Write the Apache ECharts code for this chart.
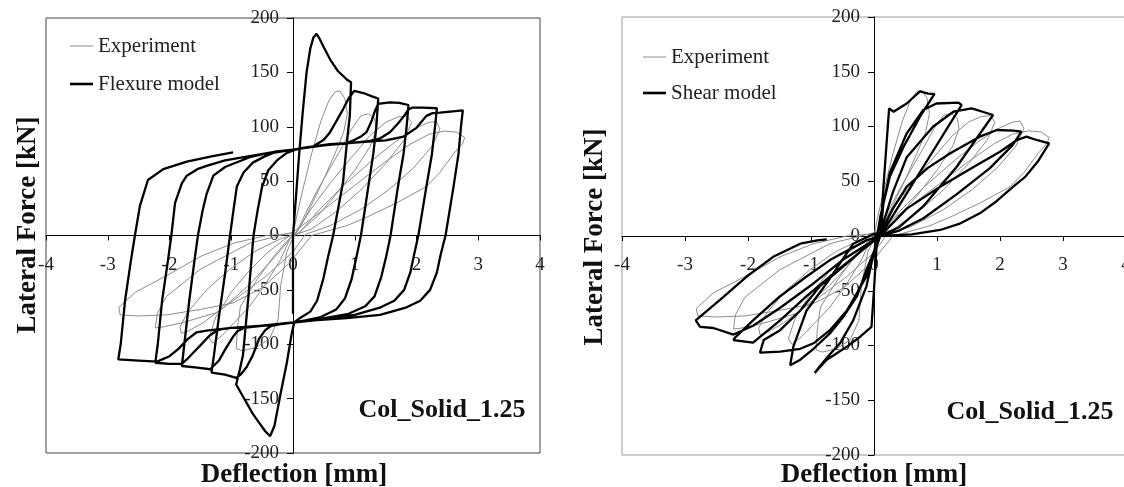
<!DOCTYPE html>
<html>
<head>
<meta charset="utf-8">
<script src="https://cdn.jsdelivr.net/npm/echarts/dist/echarts.min.js"></script>
<style>
html,body{margin:0;padding:0;background:#fff;}
#chart{width:1124px;height:487px;}
</style>
</head>
<body>
<div id="chart"></div>
<script>
// ---- tick values ----
const xTicks = [-4, -3, -2, -1, 0, 1, 2, 3, 4];
const yTicks = [-200, -150, -100, -50, 0, 50, 100, 150, 200];

// ---- Experiment (same test data in both panels): [deflection mm, force kN] ----
const experiment = [
  [0,0],[0.05,15],[0.15,40],[0.3,75],[0.45,105],[0.58,124],[0.68,132],[0.76,133],[0.84,126],[0.88,112],[0.82,95],[0.7,78],[0.5,52],[0.3,28],[0.12,8],[0,-2],
  [-0.1,-15],[-0.2,-46],[-0.24,-77],[-0.38,-95],[-0.6,-103],[-0.82,-106],[-0.92,-104],[-0.9,-85],[-0.85,-65],[-0.6,-42],[-0.35,-22],[-0.1,-5],[0.05,2],
  [0.2,20],[0.4,42],[0.6,62],[0.8,82],[0.95,98],[1.1,110],[1.22,112],[1.32,108],[1.35,98],[1.25,82],[1.0,60],[0.7,38],[0.4,18],[0.1,3],[-0.05,-3],
  [-0.2,-22],[-0.45,-45],[-0.7,-65],[-0.95,-80],[-1.15,-92],[-1.3,-99],[-1.36,-94],[-1.25,-75],[-1.0,-52],[-0.7,-32],[-0.4,-15],[-0.1,-2],[0.05,3],
  [0.3,25],[0.6,48],[0.95,72],[1.25,92],[1.5,104],[1.7,109],[1.84,110],[1.92,104],[1.8,88],[1.5,66],[1.1,42],[0.7,22],[0.3,6],[0,0],
  [-0.3,-20],[-0.7,-45],[-1.1,-65],[-1.45,-80],[-1.7,-88],[-1.81,-90],[-1.83,-84],[-1.7,-70],[-1.4,-50],[-1.0,-30],[-0.6,-14],[-0.2,-3],[0.1,2],
  [0.4,22],[0.8,45],[1.3,70],[1.7,88],[2.0,99],[2.2,104],[2.32,105],[2.38,98],[2.25,82],[1.95,62],[1.55,42],[1.1,24],[0.6,9],[0.2,1],
  [0,-15],[-0.43,-37],[-0.85,-55],[-1.24,-71],[-1.78,-80],[-2.1,-84],[-2.23,-85],[-2.2,-72],[-2.05,-56],[-1.5,-31],[-0.7,-7],[0,3],
  [0.5,24],[1.0,46],[1.5,68],[1.9,84],[2.2,93],[2.45,96],[2.65,95],[2.78,90],[2.75,85],[2.6,75],[2.38,58],[2.16,45],[1.68,30],[1.2,17],[0.87,9],[0.3,0],
  [-0.05,-25],[-0.5,-48],[-0.97,-62],[-1.5,-68],[-2.05,-73],[-2.5,-74],[-2.8,-73],[-2.82,-66],[-2.55,-52],[-2.05,-37],[-1.49,-19],[-0.96,-7],[-0.43,0],[0,2]
];

// ---- Flexure model (left panel) ----
const flexureModel = [
  [0,-72],[0,0],[0.05,37],[0.1,75],[0.16,115],[0.22,150],[0.28,172],[0.33,182],[0.38,185.5],[0.43,181],[0.49,174],[0.6,162],[0.73,151],[0.87,143.5],[0.94,141],
  [0.92,110],[0.89,95],[0.81,49],[0.65,0],[0.57,-19],[0.49,-40],[0.39,-60],[0.28,-70],[0.11,-76],[0.02,-80],
  [-0.02,-90],[-0.1,-117],[-0.21,-148],[-0.3,-175],[-0.37,-184.5],[-0.45,-180],[-0.55,-172],[-0.65,-164],[-0.81,-148],[-0.92,-137],
  [-0.86,-123],[-0.81,-110],[-0.72,-55],[-0.64,0],[-0.57,24],[-0.5,45],[-0.4,60],[-0.26,69],[-0.1,76],[0.1,80],[0.33,82],
  [0.5,88],[0.6,95],[0.7,105],[0.81,116],[0.9,126],[0.99,133],[1.14,131],[1.28,128],[1.38,126],
  [1.35,100],[1.3,75],[1.22,45],[1.1,0],[1.03,-19],[0.95,-40],[0.84,-58],[0.7,-68],[0.45,-75],[0.2,-78],[0,-80],[-0.2,-81.5],[-0.35,-83],
  [-0.45,-87],[-0.55,-95],[-0.65,-110],[-0.75,-121],[-0.85,-128],[-0.92,-131],[-1.1,-128],[-1.32,-126],
  [-1.28,-110],[-1.2,-75],[-1.1,-35],[-1.02,0],[-0.96,25],[-0.91,45],[-0.8,58],[-0.65,67],[-0.45,73],[-0.32,76],[0,79],[0.33,82],[0.6,84],[0.87,85],
  [1.0,88],[1.1,91],[1.19,95],[1.27,105],[1.33,115],[1.38,121],[1.57,122.5],[1.72,122],[1.87,120],
  [1.84,100],[1.79,75],[1.7,45],[1.58,0],[1.51,-19],[1.43,-38],[1.32,-56],[1.17,-65],[0.9,-72],[0.6,-75],[0.33,-78],[0,-80],[-0.5,-83],[-0.8,-85],
  [-0.9,-88],[-0.97,-93],[-1.1,-105],[-1.2,-115],[-1.34,-123],[-1.55,-121.5],[-1.8,-120],
  [-1.76,-100],[-1.68,-60],[-1.6,-25],[-1.54,0],[-1.46,24],[-1.4,38],[-1.29,55],[-1.1,63],[-0.97,66],[-0.7,72],[-0.4,76],[0,79],[0.5,83],[1.0,85.5],[1.25,87],
  [1.4,89],[1.57,95],[1.7,103],[1.8,110],[1.87,116],[1.93,117.5],[2.1,117.5],[2.33,117],
  [2.3,100],[2.25,75],[2.16,45],[2.03,0],[1.96,-18],[1.9,-34],[1.8,-50],[1.64,-60],[1.42,-66],[1.0,-73],[0.5,-77],[0,-80],[-0.5,-83],[-1.0,-85],[-1.15,-86],
  [-1.25,-88],[-1.35,-92],[-1.5,-101],[-1.62,-108],[-1.72,-114],[-1.8,-118],[-2.0,-118],[-2.23,-117],
  [-2.19,-100],[-2.12,-60],[-2.03,-25],[-1.97,0],[-1.91,30],[-1.8,48],[-1.72,55],[-1.55,61],[-1.4,64],[-1.1,69],[-0.7,73],[-0.3,77],[0,79],[0.5,83],[1.0,85.5],[1.5,87.5],[1.79,91],
  [2.0,99],[2.16,110],[2.26,112.5],[2.38,113],[2.55,114],[2.75,115],
  [2.72,100],[2.68,75],[2.6,45],[2.47,0],[2.39,-18],[2.33,-34],[2.22,-50],[2.06,-60],[1.84,-66],[1.41,-73],[0.87,-76],[0.33,-78],[0,-80],[-0.5,-83],[-1.0,-85],[-1.4,-87.5],
  [-1.56,-89],[-1.7,-95],[-1.85,-104],[-2.0,-111],[-2.2,-116],[-2.5,-115],[-2.83,-114],
  [-2.79,-100],[-2.72,-60],[-2.63,-25],[-2.56,0],[-2.48,27],[-2.35,51],[-2.1,61],[-1.72,68],[-1.3,73],[-0.97,76.5]
];

// ---- Shear model (right panel) ----
const shearModel = [
  [0,0],[0.1,2],[0.15,45],[0.2,85],[0.24,116.6],[0.31,113.5],[0.52,121],[0.73,132],[0.86,130],[0.96,129.7],
  [0.73,109],[0.47,81.5],[0.25,54],[0.1,17.6],[0.05,0],
  [0.0,-49],[-0.04,-83],[-0.22,-92],[-0.43,-101],[-0.59,-107],[-0.75,-113],[-0.91,-123],[-0.94,-125],[-0.86,-119],[-0.7,-108],[-0.54,-98],[-0.33,-77],[-0.12,-46],[0.04,-4],[0.1,0],
  [0.15,30],[0.25,57.5],[0.52,93.8],[0.78,115],[0.99,121],[1.34,121.8],[1.39,119.6],[1.2,102],[0.78,63],[0.52,39],[0.25,14],[0.1,0],
  [-0.12,-31],[-0.27,-55],[-0.49,-74],[-0.7,-89],[-0.96,-103],[-1.17,-113],[-1.33,-118],[-1.28,-101],[-1.07,-68],[-0.75,-43],[-0.33,-7],[0,2],[0.1,3],
  [0.3,40],[0.52,72],[0.94,100],[1.26,113.5],[1.55,116.6],[1.75,113],[1.89,110.5],[1.31,63],[0.78,27],[0.4,8],[0.1,0],
  [-0.12,-37],[-0.43,-68],[-0.7,-86],[-0.96,-98],[-1.17,-103],[-1.49,-105.6],[-1.81,-106.5],[-1.75,-95],[-1.49,-86],[-1.17,-68],[-0.86,-46],[-0.43,-25],[-0.01,-4],[0.1,2],
  [0.3,25],[0.52,45],[0.85,62],[1.21,75.5],[1.5,85],[1.68,90.7],[1.95,96.8],[2.21,96.2],[2.34,95.3],[2.2,83],[1.84,62],[1.31,38],[0.78,16],[0.4,5],[0.1,0],
  [-0.12,-10],[-0.7,-37],[-1.07,-55],[-1.49,-77],[-1.92,-97.4],[-2.23,-95],[-2.21,-93],[-1.92,-77],[-1.49,-55],[-1.07,-37],[-0.7,-22],[-0.12,-4],[0.1,0],
  [0.52,25],[1.05,45],[1.58,63],[2.0,77],[2.27,87.7],[2.42,90.7],[2.58,87.7],[2.78,84.6],[2.6,68],[2.4,54],[2.21,45],[1.95,32],[1.68,20.7],[1.35,11],[1.05,5.5],[0.6,1.5],[0.1,0],
  [-0.5,-22],[-1.0,-45],[-1.5,-66],[-1.92,-82],[-2.23,-90],[-2.55,-84],[-2.76,-83],[-2.83,-77],[-2.44,-58],[-2.02,-37],[-1.6,-19],[-1.17,-7],[-0.9,-4],[-0.75,-3]
];

const FONT = '"Liberation Serif", "DejaVu Serif", serif';

const grids = [
  { left: 46, top: 18, width: 494, height: 435 },
  { left: 622, top: 17, width: 504, height: 438 }
];

// axis lines pass through the origin: move them inward from the grid edge
function xAxisFor(gi) {
  const g = grids[gi];
  return {
    gridIndex: gi, type: 'value', position: 'bottom', offset: -g.height / 2,
    min: xTicks[0], max: xTicks[xTicks.length - 1], interval: 1,
    axisLine: { onZero: false, lineStyle: { color: '#000', width: 1 } },
    axisTick: { show: true, length: 5, lineStyle: { color: '#000' } },
    axisLabel: { margin: 20, fontFamily: FONT, fontSize: 19, color: '#222' },
    splitLine: { show: false }
  };
}
function yAxisFor(gi) {
  const g = grids[gi];
  return {
    gridIndex: gi, type: 'value', position: 'left', offset: -g.width / 2,
    min: yTicks[0], max: yTicks[yTicks.length - 1], interval: 50,
    axisLine: { onZero: false, lineStyle: { color: '#000', width: 1 } },
    axisTick: { show: true, length: 6, lineStyle: { color: '#000' } },
    axisLabel: { margin: 14, fontFamily: FONT, fontSize: 19, color: '#222' },
    splitLine: { show: false }
  };
}
function textEl(txt, x, y, size, rot) {
  return {
    type: 'text', x: x, y: y, rotation: rot || 0, silent: true,
    style: {
      text: txt, font: 'bold ' + size + 'px ' + FONT, fill: '#111',
      align: 'center', verticalAlign: 'middle', textAlign: 'center', textVerticalAlign: 'middle'
    }
  };
}
const thinIcon = 'path://M0,0H23V1H0Z';
const thickIcon = 'path://M0,0H23V2.6H0Z';

const chart = echarts.init(document.getElementById('chart'), null, { renderer: 'canvas' });
chart.setOption({
  animation: false,
  backgroundColor: '#fff',
  grid: [
    Object.assign({ show: true, borderColor: '#444', borderWidth: 1, backgroundColor: 'transparent', containLabel: false, outerBoundsMode: 'none' }, grids[0]),
    Object.assign({ show: true, borderColor: '#999', borderWidth: 1, backgroundColor: 'transparent', containLabel: false, outerBoundsMode: 'none' }, grids[1])
  ],
  xAxis: [xAxisFor(0), xAxisFor(1)],
  yAxis: [yAxisFor(0), yAxisFor(1)],
  legend: [
    { data: [
        { name: 'Experiment', icon: thinIcon, itemStyle: { color: '#8c8c8c', borderWidth: 0 } },
        { name: 'Flexure model', icon: thickIcon, itemStyle: { color: '#000', borderWidth: 0 } }
      ],
      orient: 'vertical', left: 70, top: 34, padding: 0, itemWidth: 23, itemHeight: 12, itemGap: 14, symbolKeepAspect: true,
      textStyle: { fontFamily: FONT, fontSize: 21, color: '#222', lineHeight: 24 }, selectedMode: false },
    { data: [
        { name: 'Experiment', icon: thinIcon, itemStyle: { color: '#8c8c8c', borderWidth: 0 } },
        { name: 'Shear model', icon: thickIcon, itemStyle: { color: '#000', borderWidth: 0 } }
      ],
      orient: 'vertical', left: 643, top: 45, padding: 0, itemWidth: 23, itemHeight: 12, itemGap: 12, symbolKeepAspect: true,
      textStyle: { fontFamily: FONT, fontSize: 21, color: '#222', lineHeight: 24 }, selectedMode: false }
  ],
  series: [
    { type: 'line', name: 'Experiment', xAxisIndex: 0, yAxisIndex: 0, data: experiment, symbol: 'none', showSymbol: false,
      lineStyle: { color: '#8c8c8c', width: 1 }, itemStyle: { color: '#8c8c8c' }, silent: true, z: 2 },
    { type: 'line', name: 'Flexure model', xAxisIndex: 0, yAxisIndex: 0, data: flexureModel, symbol: 'none', showSymbol: false,
      lineStyle: { color: '#000', width: 2.3 }, itemStyle: { color: '#000' }, silent: true, z: 3 },
    { type: 'line', name: 'Experiment', xAxisIndex: 1, yAxisIndex: 1, data: experiment, symbol: 'none', showSymbol: false,
      lineStyle: { color: '#8c8c8c', width: 1 }, itemStyle: { color: '#8c8c8c' }, silent: true, z: 2 },
    { type: 'line', name: 'Shear model', xAxisIndex: 1, yAxisIndex: 1, data: shearModel, symbol: 'none', showSymbol: false,
      lineStyle: { color: '#000', width: 2.3 }, itemStyle: { color: '#000' }, silent: true, z: 3 }
  ],
  graphic: [
    textEl('Lateral Force [kN]', 28, 225, 27, Math.PI / 2),
    textEl('Lateral Force [kN]', 595, 237, 27, Math.PI / 2),
    textEl('Deflection [mm]', 294, 475, 27),
    textEl('Deflection [mm]', 874, 475, 27),
    textEl('Col_Solid_1.25', 442, 410, 26),
    textEl('Col_Solid_1.25', 1030, 412, 26)
  ]
});
</script>
</body>
</html>
